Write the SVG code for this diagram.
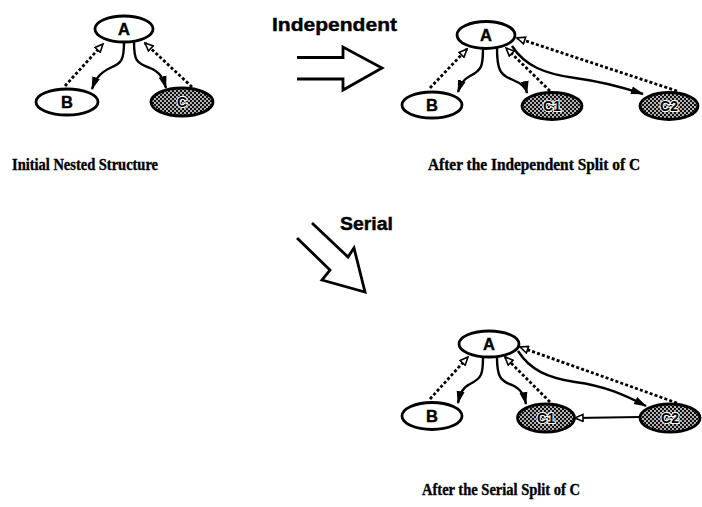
<svg xmlns="http://www.w3.org/2000/svg" width="702" height="507" viewBox="0 0 702 507">
  <style>
    .node { fill: #fff; stroke: #000; stroke-width: 2.8; }
    .split { fill: url(#mesh); stroke: #000; stroke-width: 2.8; }
    .lbl { font-family: "Liberation Sans", Arial, sans-serif; font-weight: bold; font-size: 16.5px; text-anchor: middle; fill: #000; stroke: #000; stroke-width: 0.4; }
    .lbl-h { font-family: "Liberation Sans", Arial, sans-serif; font-weight: bold; font-size: 14px; text-anchor: middle; fill: #000; stroke: #fff; stroke-width: 2; paint-order: stroke; }
    .cap { font-family: "Liberation Serif", "Times New Roman", serif; font-weight: bold; font-size: 16px; fill: #000; stroke: #000; stroke-width: 0.35; }
    .op { font-family: "Liberation Sans", Arial, sans-serif; font-weight: bold; font-size: 18px; fill: #000; stroke: #000; stroke-width: 0.4; }
    .call { fill: none; stroke: #000; stroke-width: 2.4; marker-end: url(#solidHead); }
    .ref { fill: none; stroke: #000; stroke-width: 2.8; stroke-dasharray: 3 2.2; marker-end: url(#hollowHead); }
    .link { fill: none; stroke: #000; stroke-width: 2.2; marker-end: url(#hollowHead); }
    .big { fill: none; stroke: #000; stroke-width: 2.8; stroke-linejoin: miter; }
  </style>
  <defs>
    <pattern id="mesh" width="4" height="4" patternUnits="userSpaceOnUse">
      <rect width="4" height="4" fill="#111"/>
      <circle cx="1" cy="1" r="0.9" fill="#fff"/>
      <circle cx="3" cy="3" r="0.9" fill="#fff"/>
    </pattern>
    <marker id="solidHead" markerUnits="userSpaceOnUse" markerWidth="13" markerHeight="9" refX="12" refY="4.5" orient="auto">
      <path d="M0,0.5 L13,4.5 L0,8.5 z" fill="#000"/>
    </marker>
    <marker id="hollowHead" markerUnits="userSpaceOnUse" markerWidth="10" markerHeight="9" refX="9" refY="4.5" orient="auto">
      <path d="M1,1 L9,4.5 L1,8 z" fill="#fff" stroke="#000" stroke-width="1.6"/>
    </marker>
  </defs>

  <!-- Initial nested structure -->
  <g id="n1-A"><ellipse class="node" cx="124" cy="29" rx="29" ry="13"/><text class="lbl" x="124" y="35">A</text></g>
  <g id="n1-B"><ellipse class="node" cx="67" cy="102" rx="31" ry="13"/><text class="lbl" x="67" y="108">B</text></g>
  <g id="n1-C"><ellipse class="split" cx="182" cy="102" rx="31" ry="14"/><text class="lbl-h" x="182" y="107">C</text></g>

  <!-- After the independent split -->
  <g id="n2-A"><ellipse class="node" cx="486" cy="35" rx="29" ry="13.5"/><text class="lbl" x="486" y="41">A</text></g>
  <g id="n2-B"><ellipse class="node" cx="432" cy="105" rx="30" ry="13"/><text class="lbl" x="432" y="111">B</text></g>
  <g id="n2-C1"><ellipse class="split" cx="552" cy="106" rx="30" ry="13.5"/><text class="lbl-h" x="552" y="111">C1</text></g>
  <g id="n2-C2"><ellipse class="split" cx="669" cy="106" rx="29" ry="13.5"/><text class="lbl-h" x="669" y="111">C2</text></g>

  <!-- After the serial split -->
  <g id="n3-A"><ellipse class="node" cx="489" cy="344" rx="30" ry="13"/><text class="lbl" x="489" y="350">A</text></g>
  <g id="n3-B"><ellipse class="node" cx="432" cy="416" rx="30" ry="13.5"/><text class="lbl" x="432" y="422">B</text></g>
  <g id="n3-C1"><ellipse class="split" cx="546" cy="418" rx="28.5" ry="14"/><text class="lbl-h" x="546" y="423">C1</text></g>
  <g id="n3-C2"><ellipse class="split" cx="670" cy="418" rx="30" ry="14"/><text class="lbl-h" x="670" y="423">C2</text></g>

  <g id="connectors">
    <!-- initial -->
    <path class="call" d="M124,42 C124,60 122,63 110,68 C100,73 96,78 92,89"/>
    <path class="call" d="M134,42 C134,60 136,63 150,68 C160,72 163,78 166,88"/>
    <path class="ref" d="M65,86 L103,44"/>
    <path class="ref" d="M192,87 L145,43"/>
    <!-- independent split -->
    <path class="call" d="M483,48 C483,66 482,70 470,76 C462,80 460,86 458,92"/>
    <path class="call" d="M497,48 C497,70 500,75 513,80 C523,84 526,88 527,93"/>
    <path class="call" d="M512,46 C525,66 545,74 575,78 C605,82 625,88 643,94"/>
    <path class="ref" d="M430,88 L467,49"/>
    <path class="ref" d="M550,91 L506,48"/>
    <path class="ref" d="M677,91 L517,38"/>
    <!-- serial split -->
    <path class="call" d="M483,357 C483,374 482,378 470,384 C462,388 460,394 458,403"/>
    <path class="call" d="M497,357 C497,376 500,381 512,385 C521,389 524,395 526,404"/>
    <path class="call" d="M518,351 C530,370 548,378 575,382 C605,386 625,395 646,406"/>
    <path class="link" d="M640,417 L575,418"/>
    <path class="ref" d="M430,399 L468,357"/>
    <path class="ref" d="M550,402 L505,357"/>
    <path class="ref" d="M677,403 L520,347"/>
    <!-- transformation arrows -->
    <path class="big" d="M297,57.5 L343,57.5 L343,47 L382,68 L343,90 L343,79 L297,79"/>
    <path class="big" d="M312,223 L348,257 L354,248 L365,292 L322,280 L330,270 L297,238"/>
  </g>

  <text class="op" x="272" y="31" textLength="125" lengthAdjust="spacingAndGlyphs">Independent</text>
  <text class="op" x="340" y="230" textLength="53" lengthAdjust="spacingAndGlyphs">Serial</text>

  <text class="cap" x="12" y="170" textLength="146" lengthAdjust="spacingAndGlyphs">Initial Nested Structure</text>
  <text class="cap" x="428" y="170" textLength="212" lengthAdjust="spacingAndGlyphs">After the Independent Split of C</text>
  <text class="cap" x="422" y="495" textLength="158" lengthAdjust="spacingAndGlyphs">After the Serial Split of C</text>
</svg>
